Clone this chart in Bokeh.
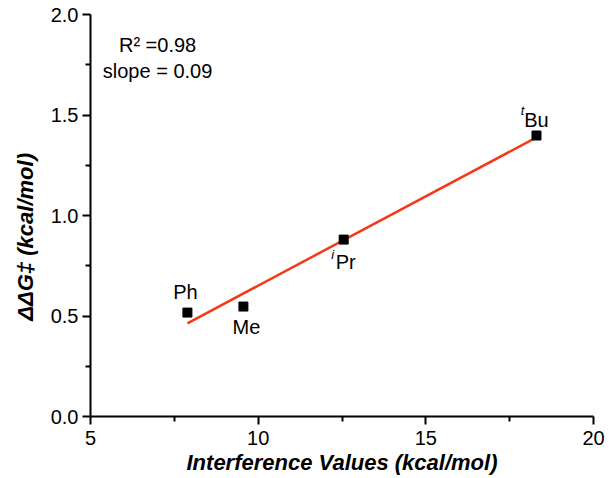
import numpy as np
from bokeh.plotting import figure
from bokeh.models import Label, FixedTicker, PrintfTickFormatter, ColumnDataSource, Range1d
from bokeh.core.properties import value
from bokeh.embed import file_html
from bokeh.resources import INLINE

# ---- data ----
names = ["Ph", "Me", "Pr", "Bu"]
prefixes = ["", "", "i", "t"]
interference = [7.89, 9.56, 12.55, 18.30]
ddg = [0.517, 0.547, 0.880, 1.398]
x_ticks = [5, 10, 15, 20]
x_minor = [7.5, 12.5, 17.5]
y_ticks = [0.0, 0.5, 1.0, 1.5, 2.0]
y_minor = [0.25, 0.75, 1.25, 1.75]
r2_text = "R\u00b2 =0.98"
slope_text = "slope = 0.09"
x_title = "Interference Values (kcal/mol)"
y_title = "\u0394\u0394G\u2021 (kcal/mol)"

# ---- styling (label offsets in screen px) ----
name_dx = [-2, 3, 2, 0]
name_dy = [-21, 20, 22, -16]
pre_dx = [0, 0, -11, -14]
pre_dy = [0, 0, 15, -25]

FONT = "Liberation Sans"

p = figure(width=609, height=478, output_backend="svg", toolbar_location=None,
           x_range=Range1d(5, 20), y_range=Range1d(0, 2.0),
           min_border_left=90, min_border_right=16, min_border_top=14, min_border_bottom=62)
p.outline_line_color = None
p.xgrid.visible = False
p.ygrid.visible = False
p.background_fill_color = "white"
p.border_fill_color = "white"

for ax in (p.xaxis[0], p.yaxis[0]):
    ax.axis_line_width = 2
    ax.axis_line_color = "black"
    ax.major_tick_line_width = 2
    ax.minor_tick_line_width = 2
    ax.major_tick_in = 0
    ax.major_tick_out = 8
    ax.minor_tick_in = 0
    ax.minor_tick_out = 5
    ax.major_label_text_font = FONT
    ax.major_label_text_font_size = "20px"
    ax.major_label_text_color = "black"
    ax.axis_label_text_font = FONT
    ax.axis_label_text_font_size = "22px"
    ax.axis_label_text_font_style = "bold italic"
    ax.axis_label_text_color = "black"

p.xaxis.ticker = FixedTicker(ticks=x_ticks, minor_ticks=x_minor)
p.yaxis.ticker = FixedTicker(ticks=y_ticks, minor_ticks=y_minor)
p.yaxis.formatter = PrintfTickFormatter(format="%.1f")
p.xaxis.major_label_standoff = 6
p.yaxis.major_label_standoff = 4

p.xaxis.axis_label = x_title
p.xaxis.axis_label_standoff = 2
# trailing no-break spaces nudge the centred title down, as in the original
p.yaxis.axis_label = y_title + "\u00a0" * 7
p.yaxis.axis_label_standoff = 10

# fit line (least squares through the data)
slope, intercept = np.polyfit(interference, ddg, 1)
fx = [min(interference), max(interference)]
fy = [slope * v + intercept for v in fx]
p.line(fx, fy, line_color="#f5381a", line_width=2.5)

src = ColumnDataSource(dict(x=interference, y=ddg, name=names, pre=prefixes,
                            ndx=name_dx, ndy=name_dy, pdx=pre_dx, pdy=pre_dy))
p.scatter("x", "y", source=src, marker="square", size=9, fill_color="black", line_color="black")
p.text("x", "y", text="name", source=src, x_offset="ndx", y_offset="ndy",
       text_align="center", text_baseline="middle",
       text_font=value(FONT), text_font_size="20px", text_color="black")
p.text("x", "y", text="pre", source=src, x_offset="pdx", y_offset="pdy",
       text_align="center", text_baseline="middle",
       text_font=value(FONT), text_font_size="13px", text_font_style="italic", text_color="black")

p.add_layout(Label(x=7.0, y=1.846, text=r2_text, text_align="center", text_baseline="middle",
                   text_font=FONT, text_font_size="20px", text_color="black"))
p.add_layout(Label(x=7.0, y=1.72, text=slope_text, text_align="center", text_baseline="middle",
                   text_font=FONT, text_font_size="20px", text_color="black"))

open("out.html", "w").write(file_html(p, INLINE))
